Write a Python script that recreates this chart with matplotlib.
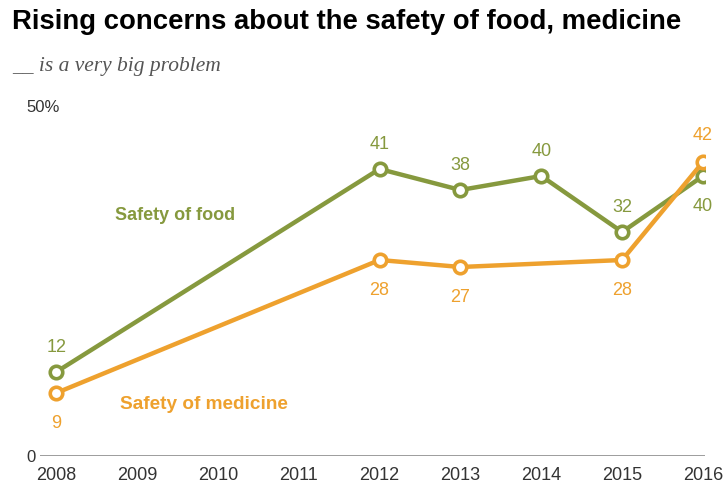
import matplotlib.pyplot as plt

years = [2008, 2009, 2010, 2011, 2012, 2013, 2014, 2015, 2016]
food_years = [2008, 2012, 2013, 2014, 2015, 2016]
food = [12, 41, 38, 40, 32, 40]
med_years = [2008, 2012, 2013, 2015, 2016]
medicine = [9, 28, 27, 28, 42]

green = '#86993e'
orange = '#eea12e'
sans = ['Liberation Sans', 'DejaVu Sans']

fig = plt.figure(figsize=(7.28, 4.88), dpi=100)
ax = fig.add_axes([40 / 728, 32 / 488, 665 / 728, 350 / 488])

ax.plot(food_years, food, color=green, lw=3.2, marker='o', ms=9,
        mfc='white', mec=green, mew=2.6, zorder=3)
ax.plot(med_years, medicine, color=orange, lw=3.2, marker='o', ms=9,
        mfc='white', mec=orange, mew=2.6, zorder=4)

# data labels: food above, medicine below (except the last year, swapped)
for i, (x, v) in enumerate(zip(food_years, food)):
    off = -22 if i == len(food) - 1 else 18
    ax.annotate(str(v), (x, v), xytext=(0, off), textcoords='offset points',
                ha='center', va='center', color=green, fontsize=13, family=sans)
for i, (x, v) in enumerate(zip(med_years, medicine)):
    off = 19 if i == len(medicine) - 1 else -22
    ax.annotate(str(v), (x, v), xytext=(0, off), textcoords='offset points',
                ha='center', va='center', color=orange, fontsize=13, family=sans)

ax.text(2008.73, 34.4, 'Safety of food', color=green, fontsize=13,
        fontweight='bold', family=sans, va='center')
ax.text(2008.79, 7.4, 'Safety of medicine', color=orange, fontsize=13.7,
        fontweight='bold', family=sans, va='center')

ax.axhline(0, color='#8c8c8c', lw=1.2)
ax.set_xlim(2007.8, 2016.025)
ax.set_ylim(0, 50)
ax.set_xticks(years)
ax.set_xticklabels([str(y) for y in years], family=sans, fontsize=13, color='#333333')
ax.set_yticks([0, 50])
ax.set_yticklabels(['0', '50%'], family=sans, fontsize=12, color='#333333')
for lab in ax.get_yticklabels():
    lab.set_horizontalalignment('left')
ax.tick_params(axis='y', length=0, pad=10)
ax.tick_params(axis='x', length=0, pad=8)
for s in ax.spines.values():
    s.set_visible(False)
ax.patch.set_alpha(0)

fig.text(12 / 728, 1 - 22 / 488, 'Rising concerns about the safety of food, medicine',
         fontsize=19.8, fontweight='bold', family=sans, va='center', color='black')
fig.text(12 / 728, 1 - 66 / 488, '__ is a very big problem', fontsize=15.5,
         style='italic', family=['Liberation Serif', 'DejaVu Serif'], va='center',
         color='#555555')

fig.savefig('out.png', dpi=100)
